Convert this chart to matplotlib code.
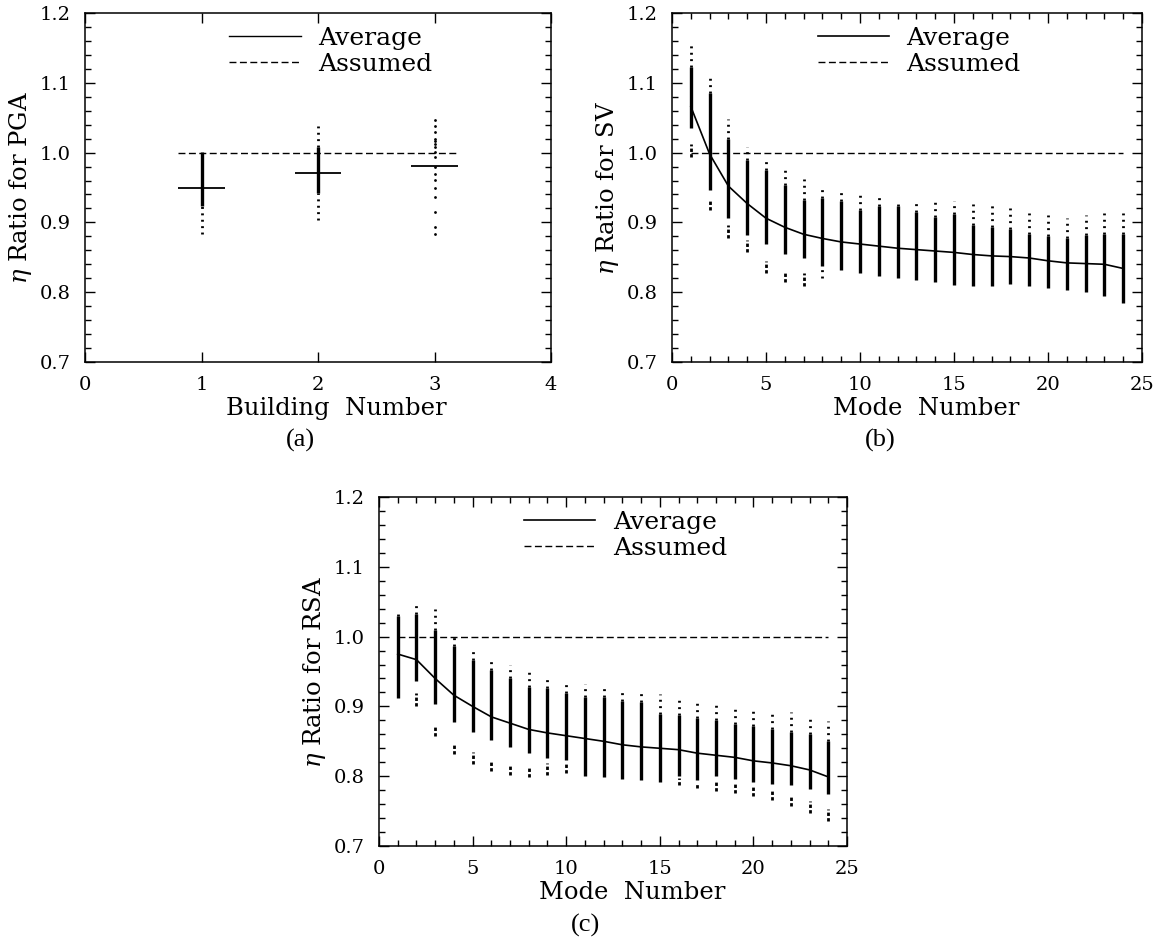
import numpy as np
import matplotlib
matplotlib.use("Agg")
import matplotlib.pyplot as plt
from matplotlib.lines import Line2D
from matplotlib.ticker import MultipleLocator

nan = np.nan

# ---------------- Panel (a): PGA ----------------
a_buildings = [1, 2, 3]
a_average = [0.950, 0.971, 0.981]
a_dense_hi = [1.001, 1.008, nan]
a_dense_lo = [0.923, 0.942, nan]
a_top = [1.001, 1.038, nan]
a_bottom = [0.883, 0.903, nan]
a_b3_points = [1.047, 1.038, 1.030, 1.020, 1.016, 1.012, 1.008, 1.001, 0.994,
               0.979, 0.970, 0.961, 0.949, 0.937, 0.915, 0.894, 0.883]
a_assumed = 1.0

# ---------------- Panel (b): SV ----------------
modes = list(range(1, 25))
b_top = [1.157, 1.109, 1.048, 1.008, 0.989, 0.976, 0.962, 0.952, 0.946, 0.940,
         0.937, 0.932, 0.930, 0.930, 0.930, 0.926, 0.925, 0.920, 0.914, 0.911,
         0.907, 0.911, 0.914, 0.914]
b_hi = [1.123, 1.085, 1.020, 0.989, 0.975, 0.954, 0.932, 0.935, 0.930, 0.918,
        0.923, 0.923, 0.915, 0.908, 0.912, 0.896, 0.894, 0.891, 0.884, 0.880,
        0.877, 0.882, 0.884, 0.884]
b_lo = [1.035, 0.946, 0.906, 0.882, 0.869, 0.855, 0.849, 0.837, 0.832, 0.827,
        0.823, 0.820, 0.817, 0.814, 0.810, 0.809, 0.809, 0.812, 0.809, 0.806,
        0.803, 0.801, 0.794, 0.785]
b_bottom = [1.035, 0.946, 0.906, 0.882, 0.869, 0.855, 0.849, 0.821, 0.832, 0.827,
            0.823, 0.820, 0.817, 0.814, 0.810, 0.809, 0.809, 0.812, 0.809, 0.806,
            0.803, 0.801, 0.794, 0.785]
b_cl_hi = [1.013, 0.934, 0.896, 0.875, 0.844, 0.829, 0.827] + [nan] * 17
b_cl_lo = [0.994, 0.918, 0.877, 0.858, 0.827, 0.814, 0.809] + [nan] * 17
b_average = [1.066, 0.998, 0.952, 0.927, 0.906, 0.893, 0.883, 0.877, 0.872, 0.869,
             0.866, 0.863, 0.861, 0.859, 0.857, 0.854, 0.852, 0.851, 0.849, 0.845,
             0.842, 0.841, 0.840, 0.834]
b_assumed = [1.0] * 24

# ---------------- Panel (c): RSA ----------------
c_top = [1.036, 1.049, 1.039, 1.004, 0.984, 0.969, 0.959, 0.951, 0.943, 0.936,
         0.932, 0.926, 0.922, 0.920, 0.918, 0.914, 0.910, 0.905, 0.901, 0.898,
         0.894, 0.892, 0.888, 0.879]
c_hi = [1.029, 1.033, 1.010, 0.986, 0.967, 0.952, 0.940, 0.928, 0.926, 0.919,
        0.914, 0.913, 0.908, 0.906, 0.889, 0.887, 0.884, 0.880, 0.875, 0.872,
        0.868, 0.863, 0.861, 0.851]
c_lo = [0.912, 0.936, 0.904, 0.878, 0.864, 0.852, 0.842, 0.833, 0.826, 0.823,
        0.800, 0.799, 0.796, 0.795, 0.791, 0.801, 0.794, 0.801, 0.796, 0.791,
        0.789, 0.787, 0.782, 0.775]
c_cl_hi = [nan, 0.919, 0.873, 0.848, 0.834, 0.822, 0.816, 0.815, 0.819, 0.819,
           nan, nan, nan, nan, nan, 0.798, 0.790, 0.795, 0.791, 0.787,
           0.782, 0.773, 0.764, 0.753]
c_cl_lo = [nan, 0.901, 0.858, 0.832, 0.818, 0.807, 0.802, 0.799, 0.802, 0.804,
           nan, nan, nan, nan, nan, 0.788, 0.783, 0.779, 0.776, 0.771,
           0.766, 0.758, 0.747, 0.736]
c_average = [0.975, 0.967, 0.940, 0.916, 0.900, 0.885, 0.876, 0.867, 0.862, 0.858,
             0.854, 0.850, 0.845, 0.842, 0.840, 0.838, 0.833, 0.830, 0.827, 0.822,
             0.819, 0.815, 0.809, 0.799]
c_assumed = [1.0] * 24

# ---------------- styling ----------------
plt.rcParams['font.family'] = ['DejaVu Serif']
plt.rcParams['mathtext.fontset'] = 'dejavuserif'
W, H = 1158, 942
fig = plt.figure(figsize=(W / 100, H / 100), dpi=100)

TICK_FS = 14
LAB_FS = 17.5
LEG_FS = 18
DENSE_LW = 2.4
DOT_STYLE = (0, (0.7, 1.6))
DASH = (0, (5, 2.5))


def make_ax(left, top, width, height):
    return fig.add_axes([left / W, 1 - (top + height) / H, width / W, height / H])


def style_ax(ax, xmax, xmajor, xminor, ylabel, xlabel, width_px):
    ax.set_ylim(0.7, 1.2)
    ax.set_xlim(0, xmax)
    ax.yaxis.set_major_locator(MultipleLocator(0.1))
    ax.yaxis.set_minor_locator(MultipleLocator(0.02))
    ax.xaxis.set_major_locator(MultipleLocator(xmajor))
    if xminor:
        ax.xaxis.set_minor_locator(MultipleLocator(xminor))
    ax.tick_params(which='both', direction='in', top=True, right=True,
                   labelsize=TICK_FS, pad=10, width=1.0)
    ax.tick_params(which='major', length=7)
    ax.tick_params(which='minor', length=4)
    ax.yaxis.set_major_formatter(plt.FuncFormatter(lambda v, p: f"{v:.1f}"))
    for s in ax.spines.values():
        s.set_linewidth(1.1)
    ax.set_ylabel(ylabel, fontsize=LAB_FS)
    ax.yaxis.set_label_coords(-51 / width_px, 0.5)
    ax.set_xlabel(xlabel, fontsize=LAB_FS)
    ax.xaxis.set_label_coords(0.54, -35 / 349)


def legend(ax, h1, h2):
    ax.legend([h1, h2], ['Average', 'Assumed'], loc='upper left',
              bbox_to_anchor=(0.31, 0.96), frameon=False, fontsize=LEG_FS,
              handlelength=2.85, handletextpad=0.7, labelspacing=0.12,
              borderpad=0, borderaxespad=0)


# Panel (a)
ax_a = make_ax(85, 13, 466, 349)
ax_a.vlines(a_buildings, a_dense_lo, a_dense_hi, color='black', lw=DENSE_LW)
ax_a.vlines(a_buildings, a_dense_hi, a_top, color='black', lw=2.0, linestyles=[DOT_STYLE])
ax_a.vlines(a_buildings, a_bottom, a_dense_lo, color='black', lw=2.0, linestyles=[DOT_STYLE])
ax_a.scatter([a_buildings[2]] * len(a_b3_points), a_b3_points, s=4, color='black', lw=0)
ax_a.hlines(a_average, np.array(a_buildings) - 0.2, np.array(a_buildings) + 0.2,
            color='black', lw=1.3)
ax_a.hlines(a_assumed, a_buildings[0] - 0.2, a_buildings[-1] + 0.2, color='black',
            lw=1.0, linestyles=[DASH])
style_ax(ax_a, 4, 1, None, r'$\eta$ Ratio for PGA', 'Building  Number', 466)
legend(ax_a, Line2D([], [], color='black', lw=1.0),
       Line2D([], [], color='black', lw=1.0, linestyle=DASH))


def mode_panel(ax, top, hi, lo, bottom, clhi, cllo, avg, assumed, ylabel, width_px):
    ax.vlines(modes, lo, hi, color='black', lw=DENSE_LW)
    ax.vlines(modes, hi, top, color='black', lw=2.0, linestyles=[DOT_STYLE])
    ax.vlines(modes, bottom, lo, color='black', lw=2.0, linestyles=[DOT_STYLE])
    ax.vlines(modes, cllo, clhi, color='black', lw=2.0, linestyles=[(0, (1.2, 0.8))])
    l1, = ax.plot(modes, avg, color='black', lw=1.2)
    l2, = ax.plot(modes, assumed, color='black', lw=1.0, linestyle=DASH)
    style_ax(ax, 25, 5, 1, ylabel, 'Mode  Number', width_px)
    legend(ax, l1, l2)


ax_b = make_ax(672, 13, 470, 349)
mode_panel(ax_b, b_top, b_hi, b_lo, b_bottom, b_cl_hi, b_cl_lo, b_average,
           b_assumed, r'$\eta$ Ratio for SV', 470)

ax_c = make_ax(379, 497, 468, 349)
mode_panel(ax_c, c_top, c_hi, c_lo, c_lo, c_cl_hi, c_cl_lo, c_average,
           c_assumed, r'$\eta$ Ratio for RSA', 468)

cap_font = dict(family=['Liberation Serif'], fontsize=19, ha='center', va='center')
fig.text(300 / W, 1 - 440 / H, '(a)', **cap_font)
fig.text(880 / W, 1 - 440 / H, '(b)', **cap_font)
fig.text(585 / W, 1 - 925 / H, '(c)', **cap_font)

fig.savefig('out.png', dpi=100)
